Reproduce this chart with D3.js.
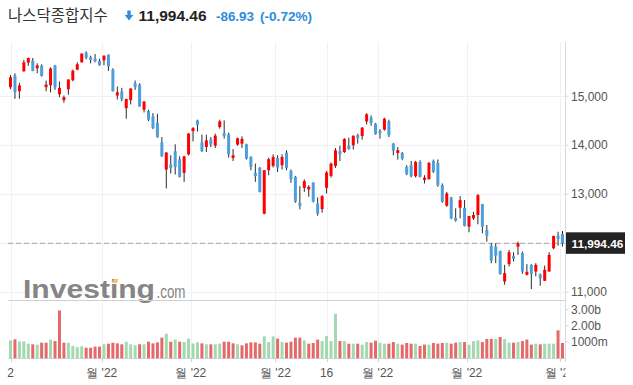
<!DOCTYPE html>
<html>
<head>
<meta charset="utf-8">
<script src="https://cdn.jsdelivr.net/npm/d3@7"></script>
<style>
  body { margin: 0; background: #fff; }
  svg { display: block; font-family: "Liberation Sans", Arial, sans-serif; }
</style>
</head>
<body>
<script>
// trading days Dec 2 2021 .. Jun 1 2022
const dates = [
  '12-02','12-03','12-06','12-07','12-08','12-09','12-10','12-13','12-14','12-15','12-16','12-17','12-20','12-21','12-22','12-23','12-27','12-28','12-29','12-30','12-31',
  '01-03','01-04','01-05','01-06','01-07','01-10','01-11','01-12','01-13','01-14','01-18','01-19','01-20','01-21','01-24','01-25','01-26','01-27','01-28','01-31',
  '02-01','02-02','02-03','02-04','02-07','02-08','02-09','02-10','02-11','02-14','02-15','02-16','02-17','02-18','02-22','02-23','02-24','02-25','02-28',
  '03-01','03-02','03-03','03-04','03-07','03-08','03-09','03-10','03-11','03-14','03-15','03-16','03-17','03-18','03-21','03-22','03-23','03-24','03-25','03-28','03-29','03-30','03-31',
  '04-01','04-04','04-05','04-06','04-07','04-08','04-11','04-12','04-13','04-14','04-18','04-19','04-20','04-21','04-22','04-25','04-26','04-27','04-28','04-29',
  '05-02','05-03','05-04','05-05','05-06','05-09','05-10','05-11','05-12','05-13','05-16','05-17','05-18','05-19','05-20','05-23','05-24','05-25','05-26','05-27','05-31',
  '06-01'
];

const opens = [
  15183,15421,15102,15509,15686,15726,15570,15625,15183,15224,15625,15041,14919,15142,15326,15543,15692,15889,15800,15767,15720,
  15733,15849,15543,15014,15095,14756,14919,15265,15238,14723,14695,14587,14459,14058,13502,13604,13875,13712,13433,13813,
  14288,14505,14058,13962,14119,13990,14370,14247,14220,13738,14011,14031,14017,13759,13433,13535,12599,13488,13576,
  13738,13590,13848,13474,13352,12822,13128,13095,13238,12810,12694,13128,13372,13575,13881,13860,13990,13997,14206,14186,14485,14560,14438,
  14290,14316,14491,14031,13840,13840,13555,13590,13366,13657,13290,13305,13678,13636,13183,12762,12932,12511,12721,12721,
  12334,12505,12572,12796,12267,11947,11927,11840,11215,11569,11738,11927,11793,11351,11555,11418,11357,11229,11418,11894,12151,
  12185
];
const highs = [
  15435,15468,15273,15740,15790,15781,15671,15651,15320,15590,15640,15300,15014,15345,15543,15692,15875,15916,15828,15863,15767,
  15832,15852,15570,15197,15171,14950,15160,15320,15265,14895,14723,14654,14642,14166,13860,13793,14017,13773,13775,14247,
  14369,14520,14215,14215,14166,14235,14520,14505,14255,13921,14153,14180,14031,13773,13624,13555,13490,13746,13813,
  13793,13813,13895,13502,13372,13162,13299,13183,13240,12932,12979,13474,13645,13942,13990,14145,14153,14197,14235,14369,14654,14607,14451,
  14328,14560,14520,14044,13962,13860,13590,13677,13677,13691,13386,13657,13706,13706,13217,13046,12945,12709,12959,12878,
  12556,12640,13000,12800,12369,11996,11996,11845,11555,11860,11813,12030,11826,11569,11569,11589,11378,11540,11813,12150,12232,
  12246
];
const lows = [
  15142,14947,14947,15500,15620,15509,15468,15400,15102,15075,15130,14980,14866,15030,15305,15530,15688,15753,15671,15692,15625,
  15631,15517,15095,14933,14898,14540,14831,15130,14785,14668,14491,14328,14150,13759,13116,13421,13400,13340,13250,13787,
  14078,14276,13860,13860,13962,13942,14337,14133,13746,13677,13990,13942,13706,13488,13250,13034,12587,13386,13543,
  13453,13502,13488,13230,12822,12688,13046,12945,12830,12558,12619,13014,13340,13535,13677,13840,13910,13910,14031,14113,14424,14398,14215,
  14133,14296,14166,13793,13706,13691,13386,13340,13340,13340,13217,13298,13433,13148,12822,12741,12485,12436,12505,12340,
  12220,12470,12383,12200,12029,11589,11589,11351,11148,11520,11622,11758,11372,11337,11060,11317,11128,11225,11415,11870,11947,
  11927
];
const closes = [
  15387,15085,15218,15692,15781,15517,15630,15413,15238,15565,15180,15170,14981,15341,15522,15653,15871,15782,15740,15712,15631,
  15828,15610,15102,15081,14936,14943,15157,15183,14790,14892,14520,14349,14166,13773,13848,13535,13555,13352,13773,14235,
  14349,14410,13881,14098,14012,14194,14485,14186,13813,13793,14139,14128,13726,13555,13366,13046,13488,13712,13759,
  13543,13759,13535,13305,12843,12761,13264,13148,12843,12599,12959,13441,13624,13895,13813,14125,13915,14194,14145,14357,14628,14451,14222,
  14245,14540,14200,13888,13898,13726,13406,13366,13657,13352,13335,13636,13454,13183,12843,13014,12505,12456,12878,12348,
  12552,12572,12979,12334,12151,11642,11744,11372,11386,11813,11677,11996,11418,11412,11365,11555,11276,11453,11758,12145,12084,
  11994
];
const prevClose = 15254; // Dec 1 close, used for the first volume colour

// volume in billions
const volumes = [
  1.10,1.17,1.04,1.04,0.90,0.86,0.84,0.96,0.96,1.15,1.06,2.94,0.96,0.96,0.76,0.69,0.74,0.65,0.65,0.72,0.72,
  0.86,0.90,0.96,0.92,0.86,1.02,0.86,0.80,0.86,0.86,1.02,0.92,0.98,1.27,1.51,1.02,1.15,1.02,1.00,1.21,
  0.92,0.98,0.92,0.86,0.86,0.86,0.90,1.02,1.02,0.92,0.86,0.80,0.92,0.98,0.98,0.90,1.35,1.00,1.35,
  1.21,1.00,0.96,1.02,1.27,1.27,1.10,0.90,0.94,1.15,1.06,1.37,1.06,2.74,1.06,1.06,0.90,0.90,0.90,0.84,1.00,0.96,1.08,
  0.96,0.90,0.90,1.00,0.90,0.84,0.94,0.90,0.90,0.76,0.84,0.84,0.94,0.90,0.94,0.96,0.90,0.96,1.00,1.00,
  0.84,1.06,1.10,1.00,1.19,1.19,1.19,1.31,1.19,0.96,0.96,1.00,1.06,1.15,0.84,0.90,0.86,0.90,0.90,0.90,1.72,
  0.94
];

const priceTicks = [15000, 14000, 13000, 12000, 11000];
const priceLabels = ['15,000', '14,000', '13,000', '', '11,000'];
const volTicks = [3, 2, 1];
const volLabels = ['3.00b', '2.00b', '1000m'];
// x ticks: month ticks sit on the boundary before the first session
const xTicks = [
  { d: '12-02', label: '2', month: false },
  { d: '01-03', label: "월 '22", month: true },
  { d: '02-01', label: "월 '22", month: true },
  { d: '03-01', label: "월 '22", month: true },
  { d: '03-16', label: '16', month: false },
  { d: '04-01', label: "월 '22", month: true },
  { d: '05-02', label: "월 '22", month: true },
  { d: '06-01', label: "월 '22", month: true }
];
const lastPrice = 11994.46;

const W = 633, H = 385;
const axisX = 565.5;
const upRed = '#ff0000', downBlue = '#4d9fdb';

const svg = d3.select('body').append('svg')
  .attr('width', W)
  .attr('height', H);

const x = d3.scalePoint().domain(dates).range([10.5, 562.5]);
const step = x.step();
const y = d3.scaleLinear().domain([11000, 15000]).range([292, 96.2]);
const yv = d3.scaleLinear().domain([0, 3]).range([358.3, 309.5]);

const tickX = (t) => t.month ? x(t.d) - step / 2 : x(t.d);

svg.append('defs').append('clipPath').attr('id', 'plotclip')
  .append('rect').attr('x', 0).attr('y', 0).attr('width', axisX).attr('height', H);

// grid
const grid = svg.append('g');
grid.selectAll('line.h').data(priceTicks).enter().append('line')
  .attr('x1', 0).attr('x2', axisX)
  .attr('y1', d => Math.round(y(d)) + 0.5).attr('y2', d => Math.round(y(d)) + 0.5)
  .attr('stroke', '#f1f1f3');
grid.selectAll('line.v').data(xTicks).enter().append('line')
  .attr('x1', d => Math.round(tickX(d)) + 0.5).attr('x2', d => Math.round(tickX(d)) + 0.5)
  .attr('y1', 42).attr('y2', 358)
  .attr('stroke', '#f1f1f3');

// watermark
const wm = svg.append('g');
wm.append('text')
  .attr('x', 23).attr('y', 298)
  .attr('font-size', 26).attr('font-weight', 'bold')
  .attr('textLength', 132).attr('lengthAdjust', 'spacingAndGlyphs')
  .attr('fill', '#858585')
  .text('Investing');
wm.append('path')
  .attr('d', 'M112,283 L114,279 L118.5,279 L117,283 Z')
  .attr('fill', '#f7c26b');
wm.append('text')
  .attr('x', 156.5).attr('y', 298)
  .attr('font-size', 19)
  .attr('textLength', 29).attr('lengthAdjust', 'spacingAndGlyphs')
  .attr('fill', '#858585')
  .text('.com');

// panel separators
svg.append('line')
  .attr('x1', 8).attr('x2', axisX).attr('y1', 300.5).attr('y2', 300.5)
  .attr('stroke', '#cfcfcf').attr('stroke-width', 1.2);
svg.append('line')
  .attr('x1', 8).attr('x2', axisX).attr('y1', 358.5).attr('y2', 358.5)
  .attr('stroke', '#d6d6d6');

// last price dashed line
svg.append('line')
  .attr('x1', 8).attr('x2', axisX)
  .attr('y1', y(lastPrice)).attr('y2', y(lastPrice))
  .attr('stroke', '#b4b4b4').attr('stroke-width', 1.3)
  .attr('stroke-dasharray', '5,3');

// candles
const candles = svg.append('g').attr('clip-path', 'url(#plotclip)')
  .selectAll('g').data(dates).enter().append('g');

candles.append('line')
  .attr('x1', d => x(d)).attr('x2', d => x(d))
  .attr('y1', (d, i) => y(highs[i])).attr('y2', (d, i) => y(lows[i]))
  .attr('stroke', '#2b2b2b').attr('stroke-width', 1);

candles.append('rect')
  .attr('x', d => x(d) - 1.5)
  .attr('width', 3)
  .attr('y', (d, i) => y(Math.max(opens[i], closes[i])))
  .attr('height', (d, i) => Math.max(1, Math.abs(y(opens[i]) - y(closes[i]))))
  .attr('fill', (d, i) => closes[i] >= opens[i] ? upRed : downBlue);

// volume
svg.append('g').attr('clip-path', 'url(#plotclip)')
  .selectAll('rect').data(volumes).enter().append('rect')
  .attr('x', (d, i) => x(dates[i]) - 1.5)
  .attr('width', 3)
  .attr('y', d => yv(d))
  .attr('height', d => yv(0) - yv(d))
  .attr('fill', (d, i) => closes[i] >= (i ? closes[i - 1] : prevClose) ? '#a3d8b0' : '#e36a6a');

// right axis
const axis = svg.append('g').attr('font-size', 12).attr('fill', '#555');
axis.append('line')
  .attr('x1', axisX).attr('x2', axisX).attr('y1', 42).attr('y2', 362)
  .attr('stroke', '#d8d8dc');
priceTicks.forEach((t, i) => {
  if (!priceLabels[i]) return;
  axis.append('line')
    .attr('x1', axisX).attr('x2', axisX + 3).attr('y1', y(t)).attr('y2', y(t))
    .attr('stroke', '#d8d8dc');
  axis.append('text')
    .attr('x', 571).attr('y', y(t) + 4.3)
    .text(priceLabels[i]);
});
volTicks.forEach((t, i) => {
  axis.append('line')
    .attr('x1', axisX).attr('x2', axisX + 3).attr('y1', yv(t)).attr('y2', yv(t))
    .attr('stroke', '#d8d8dc');
  axis.append('text')
    .attr('x', 571).attr('y', yv(t) + 4.3)
    .text(volLabels[i]);
});

// current price tag
svg.append('rect')
  .attr('x', 566).attr('y', y(lastPrice) - 11)
  .attr('width', 59).attr('height', 21.5)
  .attr('fill', '#232323');
svg.append('text')
  .attr('x', 571.5).attr('y', y(lastPrice) + 4.2)
  .attr('font-size', 11.8).attr('font-weight', 600)
  .attr('fill', '#fff')
  .text('11,994.46');

// x axis
const xa = svg.append('g').attr('clip-path', 'url(#plotclip)');
xa.selectAll('line').data(xTicks).enter().append('line')
  .attr('x1', d => Math.round(tickX(d)) + 0.5).attr('x2', d => Math.round(tickX(d)) + 0.5)
  .attr('y1', 358).attr('y2', 362)
  .attr('stroke', '#cfcfcf');
xa.selectAll('text').data(xTicks).enter().append('text')
  .attr('x', d => tickX(d))
  .attr('y', 376.5)
  .attr('text-anchor', 'middle')
  .attr('font-size', 12)
  .attr('fill', '#555')
  .text(d => d.label);

// title
const title = svg.append('g');
title.append('text')
  .attr('x', 8).attr('y', 21)
  .attr('font-family', '"Noto Sans CJK KR", sans-serif')
  .attr('font-size', 15.5)
  .attr('fill', '#333')
  .text('나스닥종합지수');
title.append('path')
  .attr('d', 'M127.3,10.5 h3.4 v4.5 h2.6 l-4.3,5.5 l-4.3,-5.5 h2.6 Z')
  .attr('fill', '#2e8ddb');
title.append('text')
  .attr('x', 138.5).attr('y', 21)
  .attr('font-size', 15.5).attr('font-weight', 'bold')
  .attr('fill', '#222')
  .text('11,994.46');
title.append('text')
  .attr('x', 216).attr('y', 21)
  .attr('font-size', 13.4).attr('font-weight', 'bold')
  .attr('fill', '#2e8ddb')
  .text('-86.93');
title.append('text')
  .attr('x', 260).attr('y', 21)
  .attr('font-size', 13.6).attr('font-weight', 'bold')
  .attr('fill', '#2e8ddb')
  .text('(-0.72%)');
</script>
</body>
</html>
